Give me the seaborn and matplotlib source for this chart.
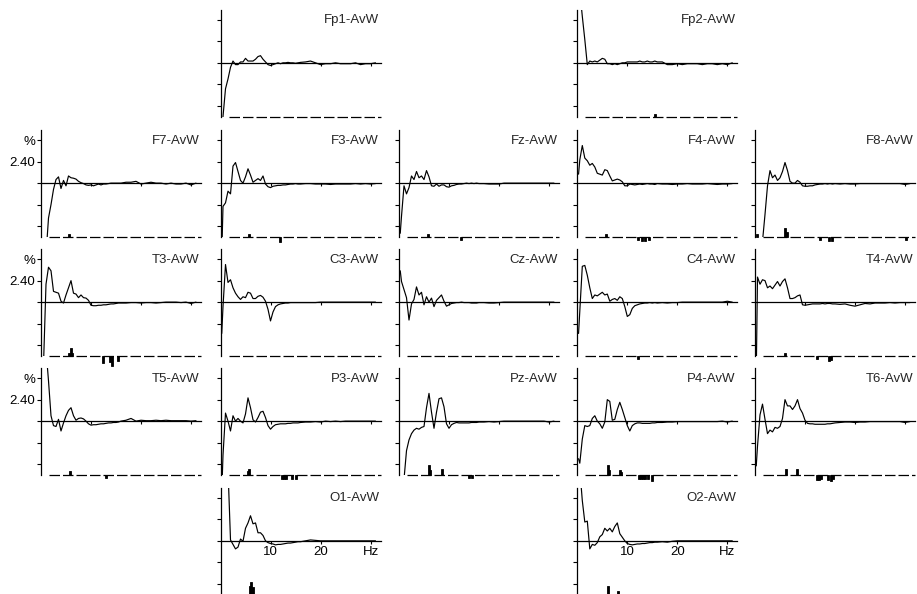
import matplotlib
matplotlib.use('Agg')
import matplotlib.pyplot as plt
import seaborn as sns

# frequency grid (Hz)
freqs = [0.25, 0.5,
         1.0, 1.5, 2.0, 2.5, 3.0, 3.5, 4.0, 4.5,
         5.0, 5.5, 6.0, 6.5, 7.0, 7.5, 8.0, 8.5,
         9.0, 9.5, 10.0, 10.5, 11.0, 11.5, 12.0, 12.5,
         13.0, 13.5, 14.0, 14.5, 15.0, 15.5, 16.0,
         17, 18, 19, 20, 21, 22, 23, 24, 25, 26, 27, 28, 29, 30, 31]

# traces, % relative to average (values past the scale get clipped)
fp1 = [-8, -6,
       -2.9, -1.8, -0.5, 0.2, -0.2, -0.2, 0.1, 0.1,
       0.5, 0.2, 0.2, 0.2, 0.4, 0.7, 0.8, 0.4,
       0.1, -0.2, -0.3, -0.2, -0.1, 0.0, -0.1, 0.0,
       0.0, 0.05, 0.0, 0.0, -0.05, 0.0, 0.05,
       0.1, 0.2, 0.0, -0.2, -0.1, -0.1, 0.0, -0.1, -0.1, -0.1, 0.0, -0.2, -0.1, -0.1, 0.0]
fp2 = [8, 8,
       5.2, 2.6, -0.2, 0.2, 0.1, 0.2, 0.1, 0.3,
       0.5, 0.4, -0.1, -0.1, -0.2, -0.1, -0.2, -0.1,
       0.0, 0.0, 0.1, 0.1, 0.1, 0.1, 0.1, 0.2,
       0.1, 0.1, 0.2, 0.1, 0.1, 0.2, 0.1,
       0.1, -0.2, -0.2, -0.1, -0.2, -0.1, -0.1, -0.1, -0.2, -0.1, -0.1, -0.2, -0.1, -0.2, 0.0]
f7 = [-8, -8,
      -8, -3.9, -2.4, -0.7, 0.4, 0.7, -0.6, 0.3,
      -0.3, 0.8, 0.6, 0.55, 0.45, 0.2, 0.05, -0.05,
      -0.2, -0.25, -0.2, -0.3, -0.2, -0.1, -0.2, -0.1,
      -0.1, -0.05, 0.0, 0.0, 0.0, 0.0, 0.0,
      0.1, 0.1, 0.2, -0.1, 0.0, 0.1, 0.0, 0.0, -0.1, 0.0, -0.1, -0.1, 0.0, -0.2, 0.0]
f3 = [-8, -2.6,
      -2.2, -0.9, -1.2, 1.9, 2.3, 1.3, 0.3, 0.0,
      0.7, 1.6, 0.9, 0.1, 0.3, 0.5, 0.3, 0.8,
      -0.1, -0.4, -0.5, -0.35, -0.3, -0.25, -0.25, -0.2,
      -0.2, -0.15, -0.1, -0.1, -0.05, -0.1, -0.1,
      -0.05, -0.05, -0.1, -0.1, -0.1, -0.15, -0.1, -0.1, -0.1, -0.1, -0.05, -0.1, -0.05, -0.1, -0.05]
fz = [-5.6, -3.7,
      -0.3, -1.2, -0.5, 0.8, 0.4, 1.3, 0.6, 0.8,
      0.4, 1.4, 0.7, -0.3, -0.35, -0.1, -0.35, -0.2,
      -0.2, -0.4, -0.45, -0.3, -0.25, -0.15, -0.1, -0.1,
      -0.05, 0.0, -0.05, 0.0, -0.05, 0.0, -0.05,
      -0.05, -0.1, -0.1, -0.1, 0, 0, 0, 0, 0, 0, 0, 0, 0, 0, 0]
f4 = [1.0, 2.6,
      4.2, 2.8, 2.5, 2.0, 2.2, 1.8, 1.1, 1.0,
      0.9, 1.5, 1.4, 0.8, 0.25, 0.35, 0.45, 0.35,
      0.15, -0.3, -0.3, -0.1, -0.15, -0.2, -0.15, -0.1,
      -0.15, -0.1, -0.05, -0.1, -0.1, -0.15, -0.05,
      -0.1, -0.1, -0.15, -0.1, -0.1, -0.05, -0.1, -0.1, -0.1, -0.05, -0.1, -0.15, -0.1, -0.1, -0.05]
f8 = [-8, -8,
      -8, -6.5, -3.5, -0.3, 1.4, 0.6, 0.9, 0.3,
      0.6, 1.3, 2.3, 1.4, 0.2, 0.0, 0.0, 0.3,
      0.1, -0.3, -0.35, -0.35, -0.3, -0.3, -0.2, -0.15,
      -0.1, -0.1, -0.05, -0.1, -0.05, -0.1, -0.05,
      -0.1, -0.05, -0.1, -0.1, -0.05, -0.05, -0.05, -0.05, -0.05, -0.05, -0.05, -0.05, -0.05, -0.15, -0.05]
t3 = [-8, -7,
      2.0, 3.9, 3.5, 1.2, 1.1, 1.0, 0.1, -0.1,
      0.8, 1.6, 2.4, 1.0, 0.9, 0.5, 0.8, 0.5,
      0.45, 0.2, -0.35, -0.4, -0.4, -0.35, -0.35, -0.3,
      -0.3, -0.25, -0.2, -0.2, -0.15, -0.1, -0.1,
      -0.1, -0.05, -0.05, -0.1, -0.05, -0.05, -0.1, -0.05, 0, 0, 0, -0.05, 0, -0.15, 0]
c3 = [-3.5, -0.5,
      4.2, 2.2, 2.5, 1.6, 1.0, 0.6, 0.3, 0.6,
      0.5, 1.1, 1.0, 0.4, 0.4, 0.65, 0.75, 0.55,
      0.1, -0.8, -2.1, -1.1, -0.5, -0.3, -0.2, -0.15,
      -0.1, -0.1, -0.05, -0.05, -0.05, -0.05, -0.05,
      -0.05, -0.05, -0.05, 0, 0, 0, 0, 0, 0, 0, 0, 0, 0, 0, 0]
cz = [3.5, 2.3,
      1.4, 0.5, -2.0, -0.2, 0.3, 1.7, 0.8, 1.1,
      -0.3, 0.6, 0.0, 0.45, -0.5, 0.2, 0.5, 0.8,
      0.1, -0.45, -0.3, -0.15, -0.1, -0.05, -0.05, 0,
      -0.05, -0.05, -0.05, -0.1, -0.1, -0.1, -0.05,
      -0.05, -0.1, -0.1, -0.05, 0, 0, 0, 0, 0, 0, 0, 0, 0, 0, 0]
c4 = [-3.5, -1.0,
      4.0, 4.1, 3.0, 1.6, 0.4, 0.8, 0.7, 0.9,
      1.1, 0.8, 0.9, 0.1, 0.3, 0.4, 0.2, 0.6,
      0.4, -0.5, -1.6, -1.4, -0.7, -0.4, -0.3, -0.2,
      -0.15, -0.1, -0.1, -0.05, -0.1, -0.05, -0.1,
      -0.05, -0.1, -0.05, -0.05, 0, 0, 0, 0, 0, 0, 0, 0, 0, 0.1, 0]
t4 = [-8, 2.8,
      2.0, 2.5, 2.4, 1.6, 1.8, 1.5, 1.9, 2.3,
      1.8, 2.3, 2.6, 1.6, 0.4, 0.4, 0.5, 0.7,
      0.8, -0.3, -0.35, -0.3, -0.25, -0.2, -0.2, -0.2,
      -0.2, -0.15, -0.2, -0.15, -0.15, -0.2, -0.2,
      -0.25, -0.2, -0.35, -0.45, -0.3, -0.15, -0.2, -0.1, -0.1, -0.1, -0.05, -0.1, -0.05, -0.05, -0.05]
t5 = [8, 8,
      8, 4.5, 0.6, -0.5, -0.6, 0.2, -1.1, -0.2,
      0.6, 1.2, 1.5, 0.6, 0.1, 0.3, 0.35, 0.25,
      0.0, -0.3, -0.45, -0.4, -0.4, -0.35, -0.3, -0.3,
      -0.25, -0.2, -0.2, -0.15, -0.15, -0.1, 0.0,
      0.1, 0.3, 0.0, 0.1, 0.05, 0.05, 0.1, 0.05, 0.1, 0.05, 0.05, 0.05, 0.05, 0.0, 0.05]
p3 = [-8, -3.8,
      0.9, 0.0, -1.1, 0.6, 0.0, 0.3, 0.0, -0.2,
      0.8, 2.6, 1.5, 0.15, -0.1, 0.4, 1.0, 1.1,
      0.4, -0.5, -0.9, -0.6, -0.4, -0.35, -0.3, -0.3,
      -0.3, -0.25, -0.25, -0.2, -0.2, -0.2, -0.15,
      -0.1, -0.1, -0.05, -0.1, 0, -0.05, 0, -0.05, 0, 0, 0, 0, 0, 0, 0]
pz = [-8, -8,
      -6.5, -3.3, -2.1, -1.4, -1.0, -0.8, -0.9, -0.7,
      -0.6, 1.5, 3.1, 1.0, -0.8, 1.0, 2.5, 2.6,
      1.6, -0.3, -0.8, -0.4, -0.25, -0.15, -0.2, -0.2,
      -0.2, -0.2, -0.2, -0.15, -0.15, -0.15, -0.1,
      -0.1, -0.05, -0.1, -0.05, 0, 0, 0, 0, 0, 0, 0, 0, 0, -0.1, 0]
p4 = [-4.2, -4.7,
      -2.0, -0.5, -0.6, -0.5, 0.3, 0.6, 0.0, -0.3,
      -0.8, -0.1, 2.4, 2.2, 0.1, 0.2, 1.3, 2.1,
      1.3, 0.4, -0.5, -1.1, -0.5, -0.3, -0.2, -0.2,
      -0.25, -0.25, -0.25, -0.25, -0.2, -0.2, -0.15,
      -0.15, -0.1, -0.1, -0.05, -0.05, -0.05, -0.05, -0.05, -0.05, -0.05, -0.05, -0.05, 0, -0.1, 0]
t6 = [-5.0, -2.8,
      0.7, 1.9, 0.2, -1.4, -1.0, -1.2, -0.7, -0.8,
      -0.6, 0.3, 2.4, 1.7, 1.7, 1.3, 1.7, 2.4,
      1.4, 0.9, 0.1, -0.25, -0.3, -0.3, -0.35, -0.35,
      -0.35, -0.35, -0.35, -0.3, -0.3, -0.25, -0.2,
      -0.15, -0.1, -0.1, -0.15, -0.1, -0.1, -0.05, -0.05, -0.05, -0.05, -0.05, -0.05, -0.05, -0.15, -0.05]
o1 = [8, 8,
      8, 8, 0.1, -0.4, -0.9, -0.7, 0.2, -0.05,
      1.4, 2.0, 2.8, 1.9, 2.0, 0.9, 0.9, 0.6,
      0.0, -0.2, -0.3, -0.35, -0.45, -0.4, -0.4, -0.35,
      -0.3, -0.25, -0.25, -0.2, -0.15, -0.1, -0.1,
      0.0, 0.1, 0.05, 0, 0, 0, 0, 0, 0, 0, 0, 0, 0, 0, 0]
o2 = [8, 8,
      4.5, 2.1, 2.2, -0.9, -0.4, -0.5, -0.2, 0.45,
      0.7, 1.4, 1.1, 1.4, 1.0, 1.6, 2.0, 0.8,
      0.4, 0.0, -0.3, -0.4, -0.45, -0.4, -0.35, -0.35,
      -0.3, -0.3, -0.25, -0.2, -0.2, -0.15, -0.15,
      -0.1, -0.15, -0.05, 0, 0, 0, 0, 0, 0, 0, 0, 0, 0, 0, 0]

# small significance bars at the bottom: (Hz, height)
bars = {
    'Fp1': [],
    'Fp2': [(15.6, 0.35)],
    'F7': [(5.6, 0.35)],
    'F3': [(5.7, 0.35), (11.9, -0.55)],
    'Fz': [(5.8, 0.35), (12.4, -0.25)],
    'F4': [(5.8, 0.35), (12.2, -0.3), (13.0, -0.45), (13.5, -0.45), (14.4, -0.3)],
    'F8': [(0.4, 0.35), (6.0, 1.0), (6.3, 0.6), (13.0, -0.3), (14.8, -0.4), (15.3, -0.4), (30.2, -0.25)],
    'T3': [(5.6, 0.4), (5.9, 0.9), (6.2, 0.4), (12.4, -0.7), (13.8, -0.6), (14.1, -1.1), (15.4, -0.5)],
    'C3': [],
    'Cz': [],
    'C4': [(12.2, -0.25)],
    'T4': [(6.0, 0.35), (12.4, -0.3), (14.8, -0.55), (15.2, -0.4)],
    'T5': [(5.8, 0.45), (13.0, -0.3)],
    'P3': [(5.4, 0.5), (5.7, 0.7), (12.2, -0.45), (12.6, -0.45), (13.0, -0.45), (14.2, -0.4), (15.0, -0.4)],
    'Pz': [(5.9, 1.1), (6.2, 0.6), (8.5, 0.7), (14.0, -0.3), (14.5, -0.3)],
    'P4': [(6.1, 1.1), (6.3, 0.6), (8.5, 0.6), (8.8, 0.4), (12.4, -0.4), (12.8, -0.45),
           (13.2, -0.45), (13.6, -0.45), (14.1, -0.4), (15.0, -0.6)],
    'T6': [(6.1, 0.7), (8.4, 0.7), (12.4, -0.5), (12.8, -0.55), (13.2, -0.45), (14.6, -0.5),
           (15.2, -0.6), (15.6, -0.4)],
    'O1': [(5.8, 1.0), (6.1, 1.4), (6.4, 0.9)],
    'O2': [(6.1, 1.0), (8.2, 0.4)],
}

traces = {'Fp1': fp1, 'Fp2': fp2, 'F7': f7, 'F3': f3, 'Fz': fz, 'F4': f4, 'F8': f8,
          'T3': t3, 'C3': c3, 'Cz': cz, 'C4': c4, 'T4': t4,
          'T5': t5, 'P3': p3, 'Pz': pz, 'P4': p4, 'T6': t6, 'O1': o1, 'O2': o2}

# montage layout: (row, col)
layout = {'Fp1': (0, 1), 'Fp2': (0, 3),
          'F7': (1, 0), 'F3': (1, 1), 'Fz': (1, 2), 'F4': (1, 3), 'F8': (1, 4),
          'T3': (2, 0), 'C3': (2, 1), 'Cz': (2, 2), 'C4': (2, 3), 'T4': (2, 4),
          'T5': (3, 0), 'P3': (3, 1), 'Pz': (3, 2), 'P4': (3, 3), 'T6': (3, 4),
          'O1': (4, 1), 'O2': (4, 3)}

sns.set_style('white')
plt.rcParams['font.family'] = ['Liberation Sans', 'DejaVu Sans']

W, H = 917, 594
col_x = [41, 220.5, 399, 577.3, 755]     # pixel x of y axis
row_zero = [63, 183.3, 302.3, 421.3, 541]  # pixel y of zero line
ylo, yhi = -6.05, 5.9

fig = plt.figure(figsize=(W / 100, H / 100), dpi=100)

for name, (r, c) in layout.items():
    z = row_zero[r]
    ax = fig.add_axes([col_x[c] / W, 1 - (z + 54) / H, 160 / W, 107 / H])
    sns.lineplot(x=freqs, y=traces[name], ax=ax, color='black', lw=0.85)
    ax.set_xlim(0, 32)
    ax.set_ylim(ylo, yhi)
    ax.set_xlabel('')
    ax.set_ylabel('')

    # zero line as x axis
    for s in ['top', 'right']:
        ax.spines[s].set_visible(False)
    ax.spines['bottom'].set_position(('data', 0))
    for s in ['bottom', 'left']:
        ax.spines[s].set_linewidth(0.9)
        ax.spines[s].set_color('black')

    ax.set_xticks([10, 20, 30])
    if name in ('O1', 'O2'):
        ax.set_xticklabels(['10', '20', 'Hz'])
    else:
        ax.set_xticklabels([])
    ax.tick_params(axis='x', bottom=True, direction='out', length=2.5, width=0.8,
                   pad=1, labelsize=9.5, colors='black')

    ax.set_yticks([-4.8, -2.4, 0, 2.4, 4.8])
    if c == 0:
        ax.set_yticklabels(['', '', '', '2.40', '%'])
    else:
        ax.set_yticklabels([])
    ax.tick_params(axis='y', left=True, direction='out', length=3, width=0.8,
                   pad=1, labelsize=9.5, colors='black')

    # dashed baseline and bars
    ax.plot([1.6, 32], [ylo, ylo], color='black', lw=0.9, dashes=(8.4, 2.4), clip_on=False)
    if bars[name]:
        bf = [b[0] for b in bars[name]]
        bh = [b[1] for b in bars[name]]
        ax.bar(bf, bh, bottom=ylo, width=0.4, color='black', edgecolor='black',
               linewidth=0.6, clip_on=False)

    ax.text(31.7, 4.75, name + '-AvW', ha='right', va='center', fontsize=9.5)

fig.savefig('out.png', dpi=100)
